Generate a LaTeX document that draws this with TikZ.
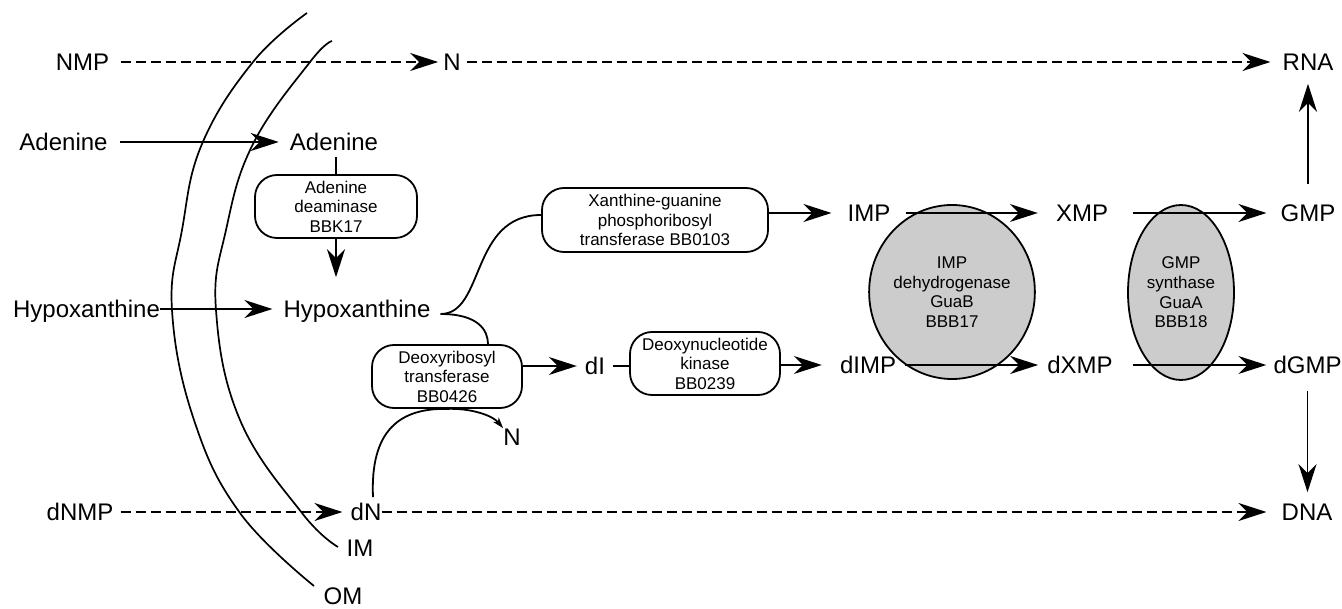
\documentclass[tikz,border=0pt]{standalone}
\usepackage{fontspec}
\setmainfont{Liberation Sans}
\usetikzlibrary{arrows.meta,shapes.geometric}
\definecolor{ovalgray}{RGB}{204,204,204}
\begin{document}
\begin{tikzpicture}[x=1pt,y=-1pt,
  lbl/.style={inner sep=0pt, text height=17.2pt, text depth=0pt, font=\fontsize{24}{28}\selectfont},
  enz/.style={draw, line width=1.8pt, rounded corners=22pt, inner sep=0pt, align=center, font=\fontsize{17}{19.5}\selectfont},
  oval/.style={ellipse, draw, line width=1.8pt, fill=ovalgray, inner sep=0pt, align=center, font=\fontsize{17}{19.6}\selectfont},
  conn/.style={line width=1.8pt},
  arr/.style={conn, -{Stealth[length=28pt,width=18pt,inset=9pt]}},
  darr/.style={arr, dash pattern=on 10pt off 5pt},
  mem/.style={line width=1.7pt},
]
\useasboundingbox (0,0) rectangle (1342,609);

% membranes
\draw[mem] plot[smooth, tension=0.7] coordinates {(307,13) (253,62) (202,144) (182,230) (172,310) (194,420) (240,513) (314,586)};
\draw[mem] plot[smooth, tension=0.7] coordinates {(332,41) (310,62) (253,144) (226,230) (216,310) (240,420) (302,513) (338,547)};

% labels
\node[lbl] (nmp) at (82.5,62) {NMP};
\node[lbl] (n1) at (452,62) {N};
\node[lbl] (rna) at (1308,62) {RNA};
\node[lbl] (ad1) at (63.5,142) {Adenine};
\node[lbl] (ad2) at (334,142) {Adenine};
\node[lbl] (hx1) at (86.5,309) {Hypoxanthine};
\node[lbl] (hx2) at (357,309) {Hypoxanthine};
\node[lbl] (imp) at (869,213) {IMP};
\node[lbl] (xmp) at (1082,213) {XMP};
\node[lbl] (gmp) at (1308,213) {GMP};
\node[lbl] (di) at (595,366) {dI};
\node[lbl] (dimp) at (868,365) {dIMP};
\node[lbl] (dxmp) at (1080,365) {dXMP};
\node[lbl] (dgmp) at (1307.5,365) {dGMP};
\node[lbl] (n2) at (512,437) {N};
\node[lbl] (dnmp) at (80,512) {dNMP};
\node[lbl] (dn) at (366,512) {dN};
\node[lbl] (dna) at (1307,512) {DNA};
\node[lbl] (im) at (360,548) {IM};
\node[lbl] (om) at (343,596) {OM};

% enzymes
\node[enz, minimum width=162pt, minimum height=63pt] (adbox) at (336,206.5) {Adenine\\deaminase\\BBK17};
\node[enz, minimum width=226pt, minimum height=64pt] (xgbox) at (655,220) {Xanthine-guanine\\phosphoribosyl\\transferase BB0103};
\node[enz, minimum width=150pt, minimum height=63pt] (drbox) at (447,376.5) {Deoxyribosyl\\transferase\\BB0426};
\node[enz, minimum width=150pt, minimum height=63pt] (dkbox) at (705,363.5) {Deoxynucleotide\\kinase\\BB0239};
\node[oval, minimum width=130pt, minimum height=174pt] (e1) at (952,292) {IMP\\dehydrogenase\\GuaB\\BBB17};
\node[oval, minimum width=106pt, minimum height=175pt] (e2) at (1181,292.5) {GMP\\synthase\\GuaA\\BBB18};

% connectors
\draw[darr, shorten <=12pt, shorten >=5pt] (nmp.east) -- (n1.west);
\draw[darr, shorten <=6pt, shorten >=12pt] (n1.east) -- (rna.west);
\draw[arr, shorten <=12pt, shorten >=11pt] (ad1.east) -- (ad2.west);
\draw[conn, shorten <=6.5pt] (adbox.north |- ad2.south) -- (adbox.north);
\draw[arr, shorten >=23pt] (adbox.south) -- (adbox.south |- hx2.north);
\draw[arr, shorten >=11pt] (hx1.east) -- (hx2.west);
\coordinate (J) at ([xshift=10pt, yshift=-5pt]hx2.east);
\draw[conn] (J) .. controls (485,314) and (470,215) .. ([yshift=5pt]xgbox.west);
\draw[conn] (J) .. controls (478,314) and (488,330) .. ([xshift=41pt]drbox.north);
\draw[arr, shorten >=16pt] (xgbox.east |- imp.west) -- (imp.west);
\draw[arr, shorten <=15pt, shorten >=18pt] (imp.east) -- (xmp.west);
\draw[arr, shorten <=25pt, shorten >=14pt] (xmp.east) -- (gmp.west);
\draw[arr, shorten <=20pt, shorten >=13pt] (gmp.north) -- (rna.south);
\draw[arr, shorten <=17pt, shorten >=11pt] (dgmp.south) -- (dgmp.south |- dna.north);
\draw[arr, shorten >=8pt] (drbox.east |- di.west) -- (di.west);
\draw[conn, shorten <=8pt] (di.east) -- (dkbox.west |- di.east);
\draw[arr, shorten >=18pt] (dkbox.east |- dimp.west) -- (dimp.west);
\draw[arr, shorten <=9pt, shorten >=9pt] (dimp.east) -- (dxmp.west);
\draw[arr, shorten <=20pt, shorten >=7pt] (dxmp.east) -- (dgmp.west);
\draw[darr, shorten <=7pt, shorten >=8pt] (dnmp.east) -- (dn.west);
\draw[darr, shorten >=15pt] (dn.east) -- (dna.west);
\draw[conn, -{Stealth[length=11pt,width=7pt,inset=3pt]}] ([xshift=7pt, yshift=6pt]dn.north) .. controls (370,430) and (400,408) .. (drbox.south) .. controls (470,408) and (492,415) .. (n2.north west);
\end{tikzpicture}
\end{document}
